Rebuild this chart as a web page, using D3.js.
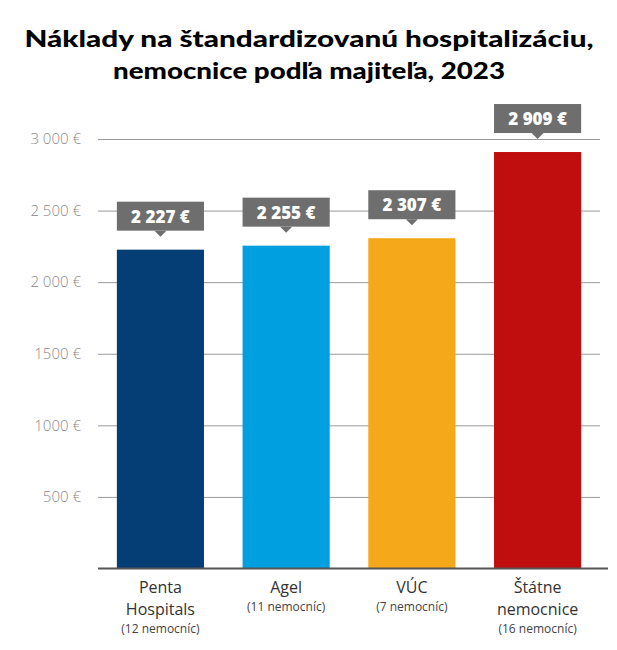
<!DOCTYPE html>
<html>
<head>
<meta charset="utf-8">
<script src="https://cdn.jsdelivr.net/npm/d3@7"></script>
<style>
  body { margin: 0; background: #fff; }
</style>
</head>
<body>
<svg width="617" height="650"></svg>
<script>
// data
const categories = ['Penta Hospitals', 'Agel', 'VÚC', 'Štátne nemocnice'];
const nameLines = [['Penta', 'Hospitals'], ['Agel'], ['VÚC'], ['Štátne', 'nemocnice']];
const counts = ['(12 nemocníc)', '(11 nemocníc)', '(7 nemocníc)', '(16 nemocníc)'];
const values = [2227, 2255, 2307, 2909];
const colors = ['#053d75', '#009fe0', '#f5a81a', '#c00e0f'];
const yTicks = [500, 1000, 1500, 2000, 2500, 3000];
const yTickLabels = ['500 €', '1000 €', '1500 €', '2 000 €', '2 500 €', '3 000 €'];
const titleLines = ['Náklady na štandardizovanú hospitalizáciu,', 'nemocnice podľa majiteľa, 2023'];

let svg = d3.select('svg');
let width = +svg.attr('width');
let margin = { left: 98, right: 17 };
let fmt = v => d3.format(',')(v).replace(/,/g, ' ');

let x = d3.scaleBand()
  .domain(categories)
  .range([margin.left, width - margin.right])
  .paddingInner(0.307)
  .paddingOuter(0.15);
let y = d3.scaleLinear()
  .domain([0, 3000])
  .range([568.5, 139]);

// title
svg.append('g')
  .selectAll('text')
  .data(titleLines)
  .join('text')
  .attr('x', 309)
  .attr('y', (d, i) => 47 + i * 32)
  .attr('text-anchor', 'middle')
  .attr('font-family', 'Lato, "Open Sans", sans-serif')
  .attr('font-weight', 900)
  .attr('font-size', 23)
  .attr('fill', '#000')
  .attr('textLength', (d, i) => i === 0 ? 569 : 392)
  .attr('lengthAdjust', 'spacingAndGlyphs')
  .text(d => d);

// y axis with gridlines
const gy = svg.append('g')
  .attr('transform', `translate(${margin.left},0)`)
  .call(d3.axisLeft(y)
    .tickValues(yTicks)
    .tickSize(-(width - margin.right - margin.left))
    .tickFormat((d, i) => yTickLabels[i]));
gy.select('.domain').remove();
gy.selectAll('.tick line').attr('stroke', '#9a9a9a').attr('stroke-width', 1);
gy.selectAll('.tick text')
  .attr('x', -17)
  .attr('fill', '#8a8a8a')
  .attr('font-family', '"Open Sans", sans-serif')
  .attr('font-weight', 300)
  .attr('font-size', 15);

// bars
svg.append('g')
  .selectAll('rect')
  .data(values)
  .join('rect')
  .attr('x', (d, i) => x(categories[i]))
  .attr('y', d => y(d))
  .attr('width', x.bandwidth())
  .attr('height', d => y(0) - y(d))
  .attr('fill', (d, i) => colors[i]);

// baseline
svg.append('line')
  .attr('x1', margin.left)
  .attr('x2', width - margin.right + 8)
  .attr('y1', y(0))
  .attr('y2', y(0))
  .attr('stroke', '#555')
  .attr('stroke-width', 2);

// value callouts
const lab = svg.append('g')
  .selectAll('g')
  .data(values)
  .join('g')
  .attr('transform', (d, i) => `translate(${x(categories[i])},${y(d) - 48})`);
lab.append('rect')
  .attr('width', x.bandwidth())
  .attr('height', 29)
  .attr('fill', '#6e6e6e');
lab.append('path')
  .attr('d', `M${x.bandwidth() / 2 - 6},29 L${x.bandwidth() / 2},35 L${x.bandwidth() / 2 + 6},29 Z`)
  .attr('fill', '#6e6e6e');
lab.append('text')
  .attr('x', x.bandwidth() / 2)
  .attr('y', 21)
  .attr('text-anchor', 'middle')
  .attr('fill', '#fff')
  .attr('font-family', '"Open Sans", sans-serif')
  .attr('font-weight', 800)
  .attr('font-size', 17)
  .text(d => fmt(d) + ' €');

// category labels
const xl = svg.append('g')
  .selectAll('g')
  .data(categories)
  .join('g')
  .attr('transform', d => `translate(${x(d) + x.bandwidth() / 2},0)`);
xl.each(function (d, i) {
  const g = d3.select(this);
  nameLines[i].forEach((line, j) => {
    g.append('text')
      .attr('y', 593 + j * 22)
      .attr('text-anchor', 'middle')
      .attr('fill', '#333')
      .attr('font-family', '"Open Sans", sans-serif')
      .attr('font-size', 16)
      .text(line);
  });
  g.append('text')
    .attr('y', nameLines[i].length === 2 ? 633 : 611)
    .attr('text-anchor', 'middle')
    .attr('fill', '#444')
    .attr('font-family', '"Open Sans", sans-serif')
    .attr('font-size', 12)
    .text(counts[i]);
});
</script>
</body>
</html>
